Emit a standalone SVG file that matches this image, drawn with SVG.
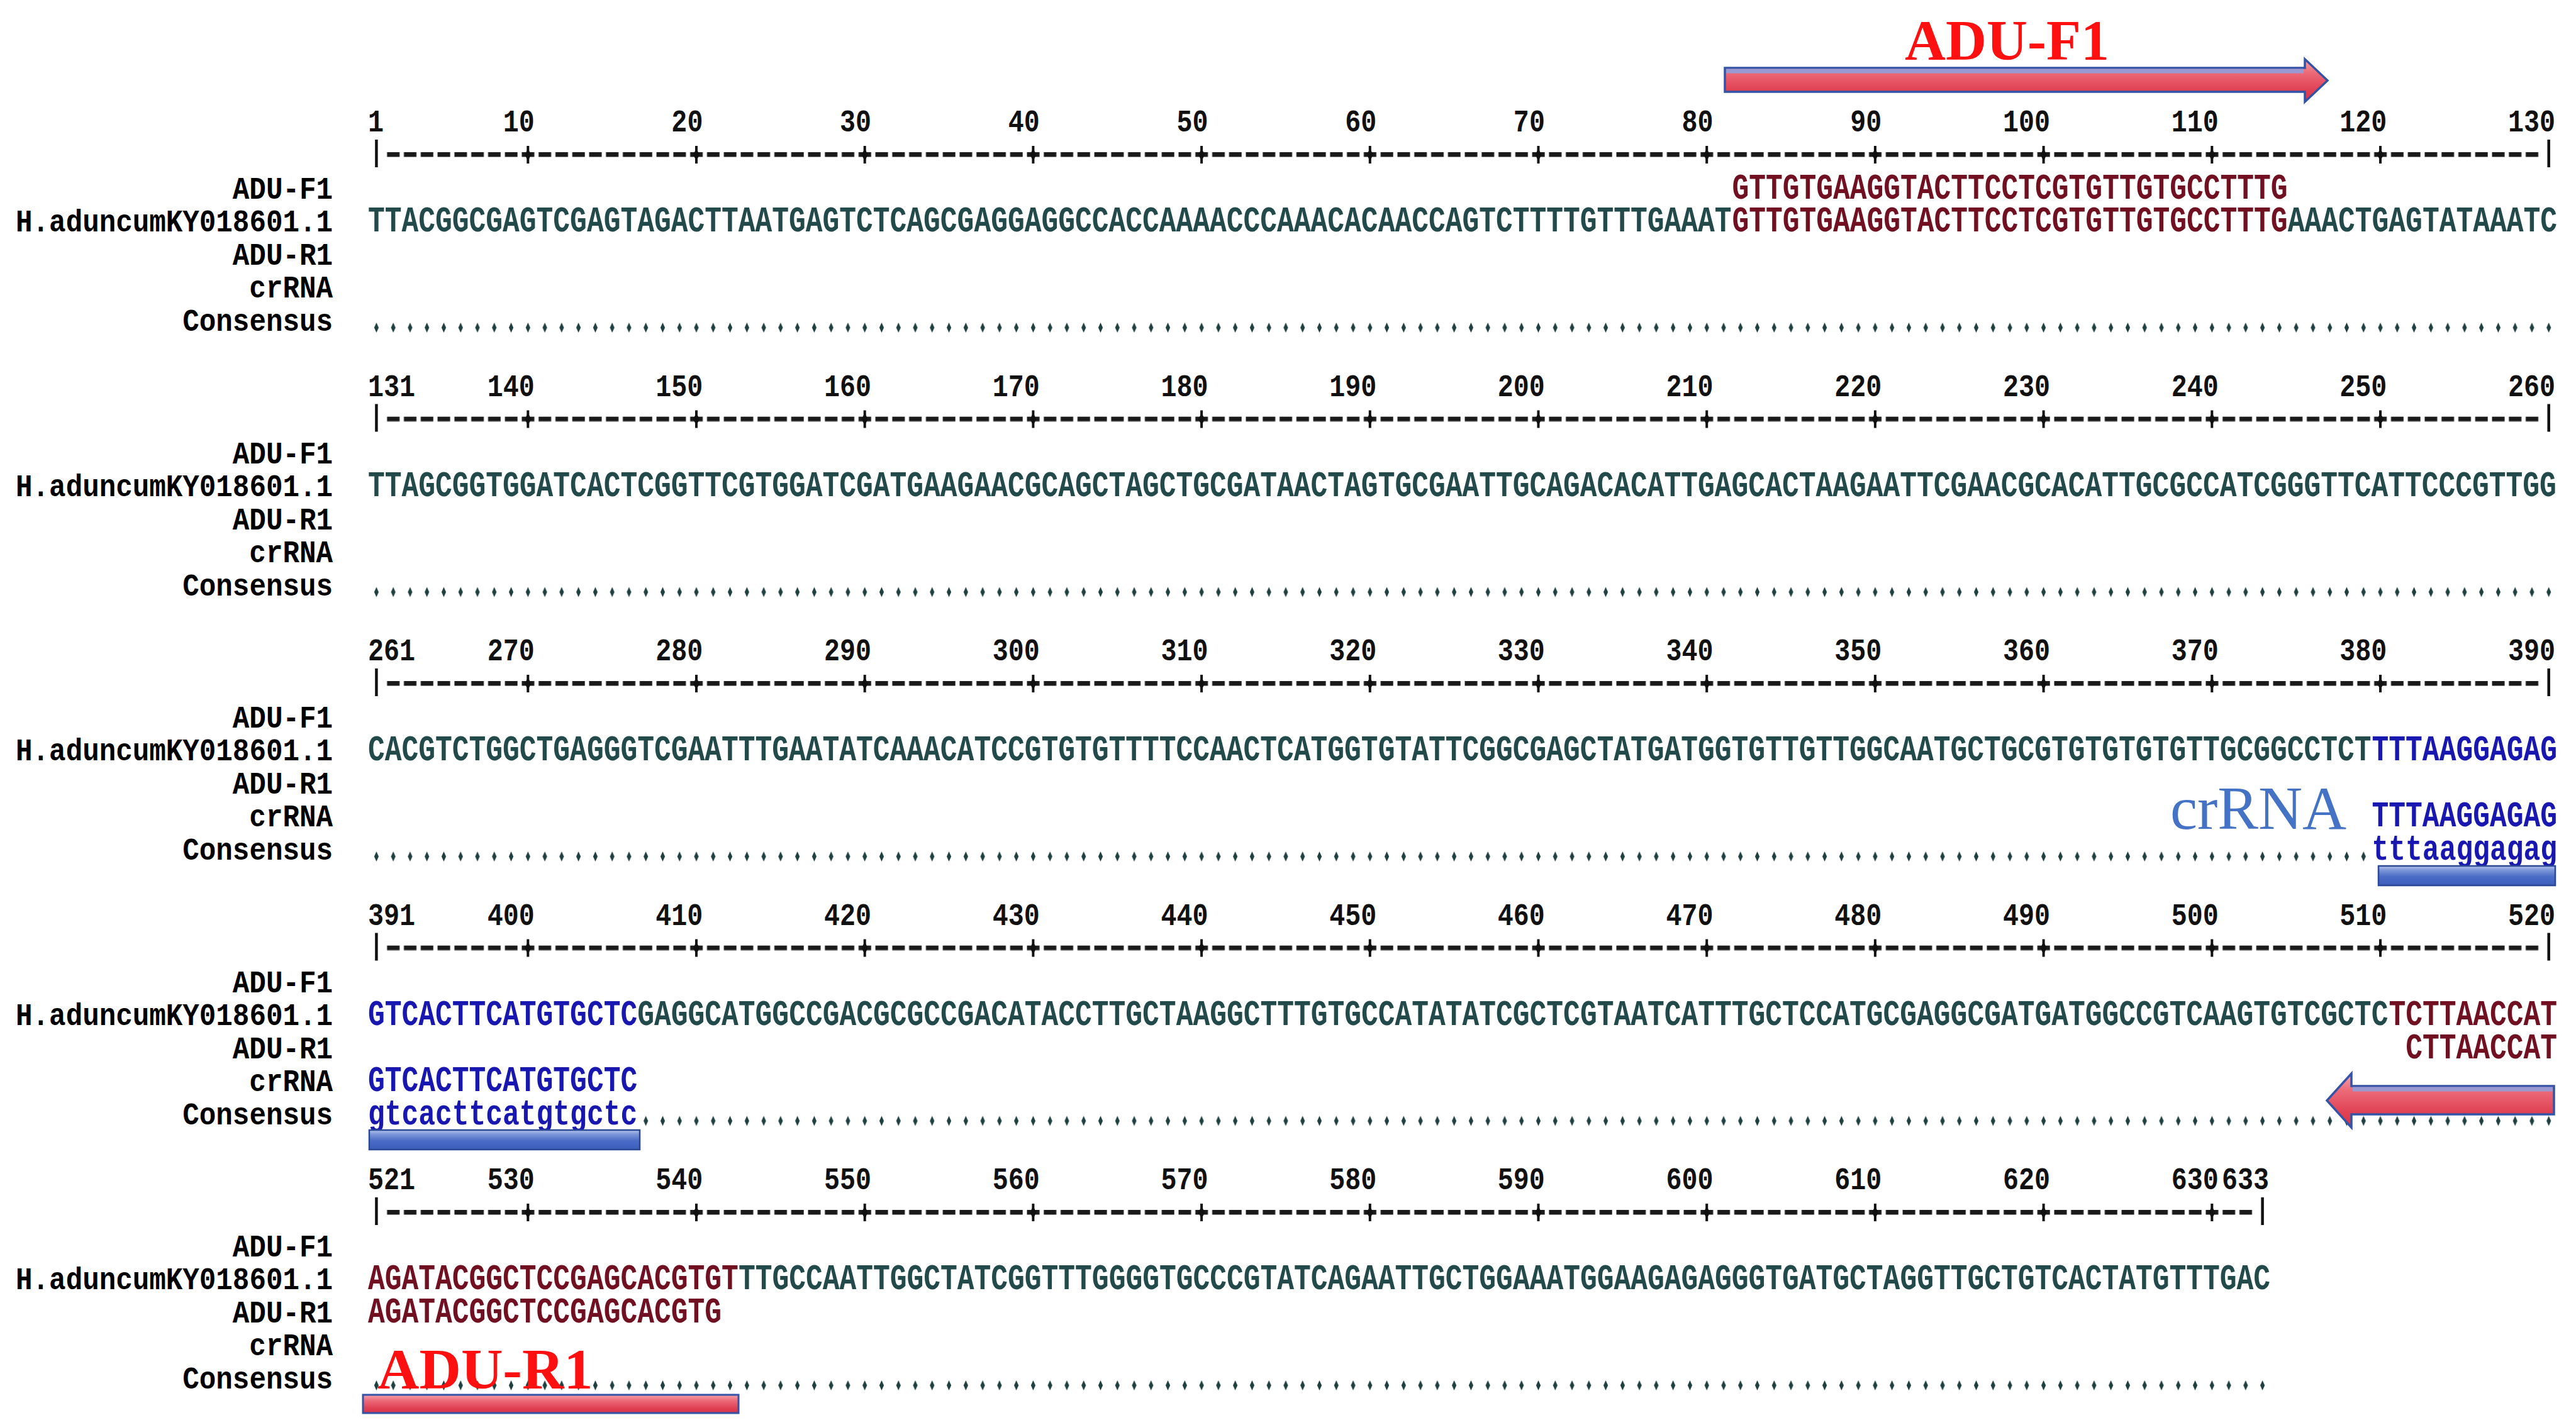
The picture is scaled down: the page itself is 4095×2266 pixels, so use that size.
<svg xmlns="http://www.w3.org/2000/svg" xmlns:xlink="http://www.w3.org/1999/xlink" width="4095" height="2266" viewBox="0 0 4095 2266">
<style>
.lbl{font-family:"Liberation Mono","DejaVu Sans Mono",monospace;font-weight:bold;font-size:44.2px;fill:#000;text-anchor:end}
.num{font-family:"Liberation Mono","DejaVu Sans Mono",monospace;font-weight:bold;font-size:41.7px;fill:#111}
.ne{text-anchor:end}
.seq{font-family:"Liberation Mono","DejaVu Sans Mono",monospace;font-weight:bold;font-size:44.6px}
.t{fill:#234a4a}.r{fill:#701020}.b{fill:#1818b0}
.big{font-family:"Liberation Serif","Times New Roman",serif}
</style>
<defs>
<pattern id="dots" patternUnits="userSpaceOnUse" x="585" y="513" width="26.77" height="16">
<polygon points="13.385,0 17,8 13.385,16 9.8,8" fill="#1f4040"/>
</pattern>
<pattern id="dash" patternUnits="userSpaceOnUse" x="585" y="242" width="26.77" height="8">
<rect x="3.5" y="0" width="20" height="7.5" fill="#1a1a1a"/>
</pattern>
<g id="tk"><path d="M0 232 V260" stroke="#111" stroke-width="4"/><path d="M0 236 L5 246 L0 256 L-5 246Z" fill="#111"/></g>
<path id="bar" d="M0 222 V266" stroke="#111" stroke-width="4.5"/>
<linearGradient id="gRed" x1="0" y1="0" x2="0" y2="1">
<stop offset="0" stop-color="#f5a3ab"/><stop offset="0.3" stop-color="#ec6c7a"/><stop offset="0.7" stop-color="#e04355"/><stop offset="1" stop-color="#d83247"/>
</linearGradient>
<linearGradient id="gBlue" x1="0" y1="0" x2="0" y2="1">
<stop offset="0" stop-color="#b8c6ec"/><stop offset="0.2" stop-color="#7f98da"/><stop offset="0.55" stop-color="#4a6cc6"/><stop offset="1" stop-color="#3c5dba"/>
</linearGradient>
</defs>
<rect width="4095" height="2266" fill="#fff"/>

<!-- Block 1 -->
<g id="block1">
<g class="lbl" transform="translate(0,316) scale(1,1.13)"><text x="529" y="0">ADU-F1</text></g>
<g class="lbl" transform="translate(0,368) scale(1,1.13)"><text x="529" y="0">H.aduncumKY018601.1</text></g>
<g class="lbl" transform="translate(0,421) scale(1,1.13)"><text x="529" y="0">ADU-R1</text></g>
<g class="lbl" transform="translate(0,473) scale(1,1.13)"><text x="529" y="0">crRNA</text></g>
<g class="lbl" transform="translate(0,526) scale(1,1.13)"><text x="529" y="0">Consensus</text></g>
<g class="num" transform="translate(0,209) scale(1,1.2)">
<text x="585" y="0">1</text>
<g class="ne">
<text x="849.7" y="0">10</text><text x="1117.4" y="0">20</text><text x="1385.1" y="0">30</text><text x="1652.8" y="0">40</text><text x="1920.5" y="0">50</text><text x="2188.2" y="0">60</text><text x="2455.9" y="0">70</text><text x="2723.6" y="0">80</text><text x="2991.3" y="0">90</text><text x="3259" y="0">100</text><text x="3526.7" y="0">110</text><text x="3794.4" y="0">120</text><text x="4062.1" y="0">130</text>
</g>
</g>
<g class="ruler">
<rect x="611.77" y="242" width="3426.5" height="8" fill="url(#dash)"/>
<use href="#bar" x="598.4"/>
<use href="#tk" x="839.3"/><use href="#tk" x="1107"/><use href="#tk" x="1374.7"/><use href="#tk" x="1642.4"/><use href="#tk" x="1910.1"/><use href="#tk" x="2177.8"/><use href="#tk" x="2445.5"/><use href="#tk" x="2713.2"/><use href="#tk" x="2980.9"/><use href="#tk" x="3248.6"/><use href="#tk" x="3516.3"/><use href="#tk" x="3784"/>
<use href="#bar" x="4051.7"/>
</g>
<g class="seq" transform="translate(0,316) scale(1,1.28)">
<text class="r" x="2753.4" y="0">GTTGTGAAGGTACTTCCTCGTGTTGTGCCTTTG</text>
</g>
<g class="seq" transform="translate(0,368) scale(1,1.28)">
<text class="t" x="585" y="0">TTACGGCGAGTCGAGTAGACTTAATGAGTCTCAGCGAGGAGGCCACCAAAACCCAAACACAACCAGTCTTTTGTTTGAAAT</text>
<text class="r" x="2753.4" y="0">GTTGTGAAGGTACTTCCTCGTGTTGTGCCTTTG</text>
<text class="t" x="3636.8" y="0">AAACTGAGTATAAATC</text>
</g>
<rect x="585" y="513" width="3480.1" height="16" fill="url(#dots)"/>
</g>

<!-- Block 2 -->
<g id="block2" transform="translate(0,420.5)">
<g class="lbl" transform="translate(0,316) scale(1,1.13)"><text x="529" y="0">ADU-F1</text></g>
<g class="lbl" transform="translate(0,368) scale(1,1.13)"><text x="529" y="0">H.aduncumKY018601.1</text></g>
<g class="lbl" transform="translate(0,421) scale(1,1.13)"><text x="529" y="0">ADU-R1</text></g>
<g class="lbl" transform="translate(0,473) scale(1,1.13)"><text x="529" y="0">crRNA</text></g>
<g class="lbl" transform="translate(0,526) scale(1,1.13)"><text x="529" y="0">Consensus</text></g>
<g class="num" transform="translate(0,209) scale(1,1.2)">
<text x="585" y="0">131</text>
<g class="ne">
<text x="849.7" y="0">140</text><text x="1117.4" y="0">150</text><text x="1385.1" y="0">160</text><text x="1652.8" y="0">170</text><text x="1920.5" y="0">180</text><text x="2188.2" y="0">190</text><text x="2455.9" y="0">200</text><text x="2723.6" y="0">210</text><text x="2991.3" y="0">220</text><text x="3259" y="0">230</text><text x="3526.7" y="0">240</text><text x="3794.4" y="0">250</text><text x="4062.1" y="0">260</text>
</g>
</g>
<g class="ruler">
<rect x="611.77" y="242" width="3426.5" height="8" fill="url(#dash)"/>
<use href="#bar" x="598.4"/>
<use href="#tk" x="839.3"/><use href="#tk" x="1107"/><use href="#tk" x="1374.7"/><use href="#tk" x="1642.4"/><use href="#tk" x="1910.1"/><use href="#tk" x="2177.8"/><use href="#tk" x="2445.5"/><use href="#tk" x="2713.2"/><use href="#tk" x="2980.9"/><use href="#tk" x="3248.6"/><use href="#tk" x="3516.3"/><use href="#tk" x="3784"/>
<use href="#bar" x="4051.7"/>
</g>
<g class="seq" transform="translate(0,368) scale(1,1.28)">
<text class="t" x="585" y="0">TTAGCGGTGGATCACTCGGTTCGTGGATCGATGAAGAACGCAGCTAGCTGCGATAACTAGTGCGAATTGCAGACACATTGAGCACTAAGAATTCGAACGCACATTGCGCCATCGGGTTCATTCCCGTTGG</text>
</g>
<rect x="585" y="513" width="3480.1" height="16" fill="url(#dots)"/>
</g>

<!-- Block 3 -->
<g id="block3" transform="translate(0,841)">
<g class="lbl" transform="translate(0,316) scale(1,1.13)"><text x="529" y="0">ADU-F1</text></g>
<g class="lbl" transform="translate(0,368) scale(1,1.13)"><text x="529" y="0">H.aduncumKY018601.1</text></g>
<g class="lbl" transform="translate(0,421) scale(1,1.13)"><text x="529" y="0">ADU-R1</text></g>
<g class="lbl" transform="translate(0,473) scale(1,1.13)"><text x="529" y="0">crRNA</text></g>
<g class="lbl" transform="translate(0,526) scale(1,1.13)"><text x="529" y="0">Consensus</text></g>
<g class="num" transform="translate(0,209) scale(1,1.2)">
<text x="585" y="0">261</text>
<g class="ne">
<text x="849.7" y="0">270</text><text x="1117.4" y="0">280</text><text x="1385.1" y="0">290</text><text x="1652.8" y="0">300</text><text x="1920.5" y="0">310</text><text x="2188.2" y="0">320</text><text x="2455.9" y="0">330</text><text x="2723.6" y="0">340</text><text x="2991.3" y="0">350</text><text x="3259" y="0">360</text><text x="3526.7" y="0">370</text><text x="3794.4" y="0">380</text><text x="4062.1" y="0">390</text>
</g>
</g>
<g class="ruler">
<rect x="611.77" y="242" width="3426.5" height="8" fill="url(#dash)"/>
<use href="#bar" x="598.4"/>
<use href="#tk" x="839.3"/><use href="#tk" x="1107"/><use href="#tk" x="1374.7"/><use href="#tk" x="1642.4"/><use href="#tk" x="1910.1"/><use href="#tk" x="2177.8"/><use href="#tk" x="2445.5"/><use href="#tk" x="2713.2"/><use href="#tk" x="2980.9"/><use href="#tk" x="3248.6"/><use href="#tk" x="3516.3"/><use href="#tk" x="3784"/>
<use href="#bar" x="4051.7"/>
</g>
<g class="seq" transform="translate(0,368) scale(1,1.28)">
<text class="t" x="585" y="0">CACGTCTGGCTGAGGGTCGAATTTGAATATCAAACATCCGTGTGTTTTCCAACTCATGGTGTATTCGGCGAGCTATGATGGTGTTGTTGGCAATGCTGCGTGTGTGTGTTGCGGCCTCT</text>
<text class="b" x="3770.6" y="0">TTTAAGGAGAG</text>
</g>
<g class="seq" transform="translate(0,473) scale(1,1.28)">
<text class="b" x="3770.6" y="0">TTTAAGGAGAG</text>
</g>
<g class="seq" transform="translate(0,526) scale(1,1.28)">
<text class="b" x="3770.6" y="0">tttaaggagag</text>
</g>
<rect x="585" y="513" width="3185.6" height="16" fill="url(#dots)"/>
</g>

<!-- Block 4 -->
<g id="block4" transform="translate(0,1261.5)">
<g class="lbl" transform="translate(0,316) scale(1,1.13)"><text x="529" y="0">ADU-F1</text></g>
<g class="lbl" transform="translate(0,368) scale(1,1.13)"><text x="529" y="0">H.aduncumKY018601.1</text></g>
<g class="lbl" transform="translate(0,421) scale(1,1.13)"><text x="529" y="0">ADU-R1</text></g>
<g class="lbl" transform="translate(0,473) scale(1,1.13)"><text x="529" y="0">crRNA</text></g>
<g class="lbl" transform="translate(0,526) scale(1,1.13)"><text x="529" y="0">Consensus</text></g>
<g class="num" transform="translate(0,209) scale(1,1.2)">
<text x="585" y="0">391</text>
<g class="ne">
<text x="849.7" y="0">400</text><text x="1117.4" y="0">410</text><text x="1385.1" y="0">420</text><text x="1652.8" y="0">430</text><text x="1920.5" y="0">440</text><text x="2188.2" y="0">450</text><text x="2455.9" y="0">460</text><text x="2723.6" y="0">470</text><text x="2991.3" y="0">480</text><text x="3259" y="0">490</text><text x="3526.7" y="0">500</text><text x="3794.4" y="0">510</text><text x="4062.1" y="0">520</text>
</g>
</g>
<g class="ruler">
<rect x="611.77" y="242" width="3426.5" height="8" fill="url(#dash)"/>
<use href="#bar" x="598.4"/>
<use href="#tk" x="839.3"/><use href="#tk" x="1107"/><use href="#tk" x="1374.7"/><use href="#tk" x="1642.4"/><use href="#tk" x="1910.1"/><use href="#tk" x="2177.8"/><use href="#tk" x="2445.5"/><use href="#tk" x="2713.2"/><use href="#tk" x="2980.9"/><use href="#tk" x="3248.6"/><use href="#tk" x="3516.3"/><use href="#tk" x="3784"/>
<use href="#bar" x="4051.7"/>
</g>
<g class="seq" transform="translate(0,368) scale(1,1.28)">
<text class="b" x="585" y="0">GTCACTTCATGTGCTC</text>
<text class="t" x="1013.3" y="0">GAGGCATGGCCGACGCGCCGACATACCTTGCTAAGGCTTTGTGCCATATATCGCTCGTAATCATTTGCTCCATGCGAGGCGATGATGGCCGTCAAGTGTCGCTC</text>
<text class="r" x="3797.4" y="0">TCTTAACCAT</text>
</g>
<g class="seq" transform="translate(0,421) scale(1,1.28)">
<text class="r" x="3824.2" y="0">CTTAACCAT</text>
</g>
<g class="seq" transform="translate(0,473) scale(1,1.28)">
<text class="b" x="585" y="0">GTCACTTCATGTGCTC</text>
</g>
<g class="seq" transform="translate(0,526) scale(1,1.28)">
<text class="b" x="585" y="0">gtcacttcatgtgctc</text>
</g>
<rect x="1013.3" y="513" width="3051.8" height="16" fill="url(#dots)"/>
</g>

<!-- Block 5 -->
<g id="block5" transform="translate(0,1682)">
<g class="lbl" transform="translate(0,316) scale(1,1.13)"><text x="529" y="0">ADU-F1</text></g>
<g class="lbl" transform="translate(0,368) scale(1,1.13)"><text x="529" y="0">H.aduncumKY018601.1</text></g>
<g class="lbl" transform="translate(0,421) scale(1,1.13)"><text x="529" y="0">ADU-R1</text></g>
<g class="lbl" transform="translate(0,473) scale(1,1.13)"><text x="529" y="0">crRNA</text></g>
<g class="lbl" transform="translate(0,526) scale(1,1.13)"><text x="529" y="0">Consensus</text></g>
<g class="num" transform="translate(0,209) scale(1,1.2)">
<text x="585" y="0">521</text>
<g class="ne">
<text x="849.7" y="0">530</text><text x="1117.4" y="0">540</text><text x="1385.1" y="0">550</text><text x="1652.8" y="0">560</text><text x="1920.5" y="0">570</text><text x="2188.2" y="0">580</text><text x="2455.9" y="0">590</text><text x="2723.6" y="0">600</text><text x="2991.3" y="0">610</text><text x="3259" y="0">620</text><text x="3526.7" y="0">630</text><text x="3607" y="0">633</text>
</g>
</g>
<g class="ruler">
<rect x="611.77" y="242" width="2971.5" height="8" fill="url(#dash)"/>
<use href="#bar" x="598.4"/>
<use href="#tk" x="839.3"/><use href="#tk" x="1107"/><use href="#tk" x="1374.7"/><use href="#tk" x="1642.4"/><use href="#tk" x="1910.1"/><use href="#tk" x="2177.8"/><use href="#tk" x="2445.5"/><use href="#tk" x="2713.2"/><use href="#tk" x="2980.9"/><use href="#tk" x="3248.6"/><use href="#tk" x="3516.3"/>
<use href="#bar" x="3596.6"/>
</g>
<g class="seq" transform="translate(0,368) scale(1,1.28)">
<text class="r" x="585" y="0">AGATACGGCTCCGAGCACGTGT</text>
<text class="t" x="1173.9" y="0">TTGCCAATTGGCTATCGGTTTGGGGTGCCCGTATCAGAATTGCTGGAAATGGAAGAGAGGGTGATGCTAGGTTGCTGTCACTATGTTTGAC</text>
</g>
<g class="seq" transform="translate(0,421) scale(1,1.28)">
<text class="r" x="585" y="0">AGATACGGCTCCGAGCACGTG</text>
</g>
<rect x="585" y="513" width="3025" height="16" fill="url(#dots)"/>
</g>

<!-- Annotations -->
<g id="f1-annot">
<path d="M2742 108 H3664 V94 L3700 128 L3664 162 V146 H2742 Z" fill="url(#gRed)" stroke="#3353a6" stroke-width="3.5"/>
<rect x="2744" y="109.5" width="918" height="7" fill="#9a9ad2"/>
<text class="big" x="3028" y="95" font-size="90" font-weight="bold" fill="#ff1010">ADU-F1</text>
</g>
<g id="crrna-annot">
<text class="big" x="3450" y="1318" font-size="97" fill="#4472c4">crRNA</text>
<rect x="3781" y="1377" width="281" height="31" fill="url(#gBlue)" stroke="#2a4894" stroke-width="2.5"/>
<rect x="587" y="1797" width="430" height="31" fill="url(#gBlue)" stroke="#2a4894" stroke-width="2.5"/>
</g>
<g id="r1-annot">
<path d="M4060 1727 H3738 V1707 L3699 1750 L3738 1793 V1772 H4060 Z" fill="url(#gRed)" stroke="#3353a6" stroke-width="3.5"/>
<rect x="3740" y="1728.5" width="318" height="7" fill="#9a9ad2"/>
<text class="big" x="600" y="2208" font-size="92" font-weight="bold" fill="#ff1010">ADU-R1</text>
<rect x="577" y="2218" width="597" height="29" fill="url(#gRed)" stroke="#3353a6" stroke-width="3"/>
</g>
</svg>
